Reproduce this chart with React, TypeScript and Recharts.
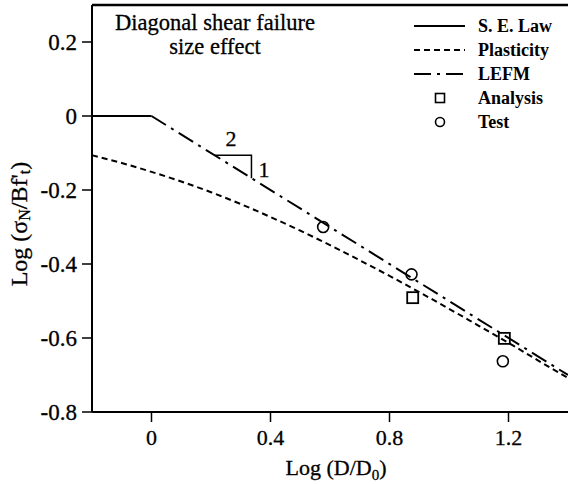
import {
  ComposedChart, Line, Scatter, XAxis, YAxis, ReferenceLine,
} from 'recharts';

const FONT = "'Liberation Serif', 'Times New Roman', Times, serif";

const xTicks = [0, 0.4, 0.8, 1.2];
const yTicks = [0.2, 0, -0.2, -0.4, -0.6, -0.8];

const seLawX = [-0.2, 0];
const seLawY = [0, 0];

const lefmX = [0, 1.4];
const lefmY = [0, -0.7];

const plasticityX = [-0.2, -0.1, 0, 0.1, 0.2, 0.3, 0.4, 0.5, 0.6, 0.7, 0.8, 0.9, 1.0, 1.1, 1.2, 1.3, 1.4];
const plasticityY = [-0.106, -0.127, -0.151, -0.177, -0.206, -0.238, -0.273, -0.31, -0.349, -0.39, -0.432, -0.476, -0.521, -0.567, -0.613, -0.661, -0.708];

const analysisX = [0.878, 1.186];
const analysisY = [-0.491, -0.601];

const testX = [0.577, 0.874, 1.181];
const testY = [-0.3, -0.428, -0.663];

// slope triangle 2:1
const slopeX = [0.212, 0.336, 0.336];
const slopeY = [-0.106, -0.106, -0.168];

const zip = (xs: number[], ys: number[]) => xs.map((x, i) => ({ x, y: ys[i] }));

const legendRows = [
  { label: 'S. E. Law', kind: 'solid' },
  { label: 'Plasticity', kind: 'dash' },
  { label: 'LEFM', kind: 'dashdot' },
  { label: 'Analysis', kind: 'square' },
  { label: 'Test', kind: 'circle' },
];

const Square = (p: any) => (
  <rect x={p.cx - 5.5} y={p.cy - 5.5} width={11} height={11} fill="none" stroke="#000" strokeWidth={1.8} />
);
const Circle = (p: any) => (
  <circle cx={p.cx} cy={p.cy} r={5.5} fill="none" stroke="#000" strokeWidth={1.6} />
);

const XTick = (p: any) => (
  <text x={p.x} y={p.y + 16} textAnchor="middle" fontSize={22} fill="#000" stroke="#000" strokeWidth={0.3} style={{ fontFamily: FONT }}>
    {String(p.payload.value)}
  </text>
);
const YTick = (p: any) => (
  <text x={p.x} y={p.y + 8} textAnchor="end" fontSize={23} fill="#000" stroke="#000" strokeWidth={0.3} style={{ fontFamily: FONT }}>
    {String(p.payload.value)}
  </text>
);

function Legend() {
  return (
    <g style={{ fontFamily: FONT }} fontSize={18} fontWeight="bold">
      {legendRows.map((r, i) => {
        const cy = 26 + i * 24;
        let mark;
        if (r.kind === 'solid') mark = <line x1={414} x2={465} y1={cy} y2={cy} stroke="#000" strokeWidth={2} />;
        else if (r.kind === 'dash') mark = <line x1={414} x2={465} y1={cy} y2={cy} stroke="#000" strokeWidth={2} strokeDasharray="6 4" />;
        else if (r.kind === 'dashdot') mark = <line x1={414} x2={465} y1={cy} y2={cy} stroke="#000" strokeWidth={2} strokeDasharray="17 6 3 6" />;
        else if (r.kind === 'square') mark = <rect x={435.5} y={cy - 4.5} width={9} height={9} fill="none" stroke="#000" strokeWidth={1.6} />;
        else mark = <circle cx={440} cy={cy} r={4.5} fill="none" stroke="#000" strokeWidth={1.6} />;
        return (
          <g key={r.label}>
            {mark}
            <text x={478} y={cy + 6}>{r.label}</text>
          </g>
        );
      })}
    </g>
  );
}

export default function App() {
  return (
    <div style={{ position: 'absolute', left: 0, top: 0, background: '#fff' }}>
      <ComposedChart width={568} height={484} margin={{ top: 5, right: 0, bottom: 0, left: 0 }}>
        <XAxis
          type="number"
          dataKey="x"
          domain={[-0.2, 1.4]}
          ticks={xTicks}
          allowDataOverflow
          height={72}
          tickSize={10}
          tickMargin={7}
          tick={XTick}
          axisLine={{ stroke: '#000', strokeWidth: 2 }}
          tickLine={{ stroke: '#000', strokeWidth: 1.5 }}
        />
        <YAxis
          type="number"
          dataKey="y"
          domain={[-0.8, 0.3]}
          ticks={yTicks}
          allowDataOverflow
          width={92}
          tickSize={10}
          tickMargin={5}
          tick={YTick}
          axisLine={{ stroke: '#000', strokeWidth: 2 }}
          tickLine={{ stroke: '#000', strokeWidth: 1.5 }}
        />
        <ReferenceLine y={0.3} stroke="#000" strokeWidth={2.5} />

        <Line data={zip(seLawX, seLawY)} dataKey="y" stroke="#000" strokeWidth={2} dot={false} isAnimationActive={false} />
        <Line data={zip(lefmX, lefmY)} dataKey="y" stroke="#000" strokeWidth={2} strokeDasharray="17 6 3 6" dot={false} isAnimationActive={false} />
        <Line data={zip(plasticityX, plasticityY)} dataKey="y" type="monotone" stroke="#000" strokeWidth={2} strokeDasharray="6 4" dot={false} isAnimationActive={false} />
        <Line data={zip(slopeX, slopeY)} dataKey="y" stroke="#000" strokeWidth={1.5} dot={false} isAnimationActive={false} />
        <Scatter data={zip(analysisX, analysisY)} dataKey="y" shape={Square} isAnimationActive={false} />
        <Scatter data={zip(testX, testY)} dataKey="y" shape={Circle} isAnimationActive={false} />

        <g style={{ fontFamily: FONT }} fill="#000" stroke="#000" strokeWidth={0.3}>
          <text x={215} y={30} fontSize={22.5} textAnchor="middle">Diagonal shear failure</text>
          <text x={215} y={54} fontSize={22.5} textAnchor="middle">size effect</text>
          <text x={231} y={146} fontSize={22} textAnchor="middle">2</text>
          <text x={264} y={177} fontSize={22} textAnchor="middle">1</text>
          <text x={336} y={475} fontSize={22} textAnchor="middle">
            Log (D/D<tspan fontSize={15} dy={5}>0</tspan><tspan dy={-5}>)</tspan>
          </text>
          <text x={19} y={224} fontSize={24} textAnchor="middle" dominantBaseline="central" transform="rotate(-90, 19, 224)">
            Log (σ<tspan fontSize={16} dy={5}>N</tspan><tspan dy={-5}>/Bf'</tspan><tspan fontSize={16} dy={5}>t</tspan><tspan dy={-5}>)</tspan>
          </text>
        </g>
        <Legend />
      </ComposedChart>
    </div>
  );
}
